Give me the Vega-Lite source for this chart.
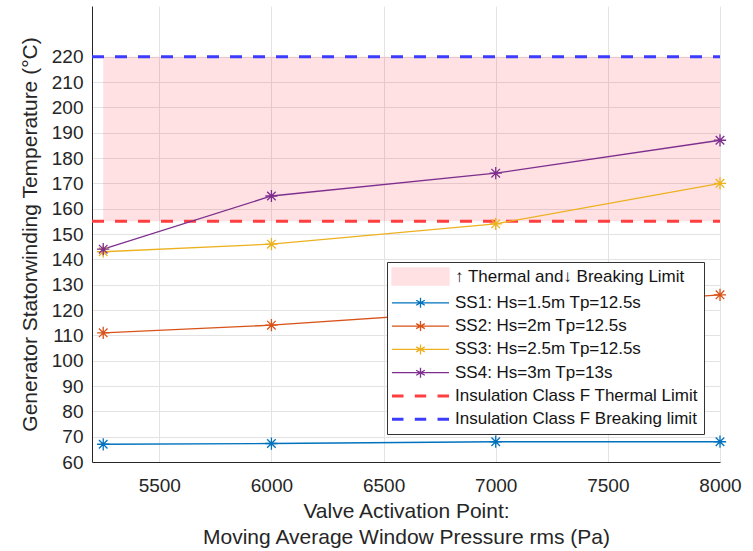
{
  "$schema": "https://vega.github.io/schema/vega-lite/v6.json",
  "width": 628,
  "height": 456,
  "autosize": {"type": "none"},
  "padding": {"left": 92, "top": 6, "right": 33, "bottom": 89},
  "background": "white",
  "config": {
    "view": {"stroke": null},
    "font": "Liberation Sans",
    "axis": {
      "labelFont": "Liberation Sans",
      "labelFontSize": 19,
      "labelColor": "#262626",
      "titleFont": "Liberation Sans",
      "titleFontSize": 21,
      "titleFontWeight": "normal",
      "titleColor": "#262626",
      "domainColor": "#262626",
      "domainWidth": 1,
      "gridColor": "#e3e3e3",
      "gridWidth": 1,
      "ticks": false,
      "labelOverlap": false,
      "labelFlush": false
    }
  },
  "datasets": {
    "ss": [
      {"x": 5250, "y": 67, "series": "SS1: Hs=1.5m Tp=12.5s"},
      {"x": 6000, "y": 67.3, "series": "SS1: Hs=1.5m Tp=12.5s"},
      {"x": 7000, "y": 68, "series": "SS1: Hs=1.5m Tp=12.5s"},
      {"x": 8000, "y": 68, "series": "SS1: Hs=1.5m Tp=12.5s"},
      {"x": 5250, "y": 111, "series": "SS2: Hs=2m Tp=12.5s"},
      {"x": 6000, "y": 114, "series": "SS2: Hs=2m Tp=12.5s"},
      {"x": 7000, "y": 120, "series": "SS2: Hs=2m Tp=12.5s"},
      {"x": 8000, "y": 126, "series": "SS2: Hs=2m Tp=12.5s"},
      {"x": 5250, "y": 143, "series": "SS3: Hs=2.5m Tp=12.5s"},
      {"x": 6000, "y": 146, "series": "SS3: Hs=2.5m Tp=12.5s"},
      {"x": 7000, "y": 154, "series": "SS3: Hs=2.5m Tp=12.5s"},
      {"x": 8000, "y": 170, "series": "SS3: Hs=2.5m Tp=12.5s"},
      {"x": 5250, "y": 144, "series": "SS4: Hs=3m Tp=13s"},
      {"x": 6000, "y": 165, "series": "SS4: Hs=3m Tp=13s"},
      {"x": 7000, "y": 174, "series": "SS4: Hs=3m Tp=13s"},
      {"x": 8000, "y": 187, "series": "SS4: Hs=3m Tp=13s"}
    ]
  },
  "encoding": {
    "x": {
      "field": "x", "type": "quantitative",
      "scale": {"domain": [5200, 8000], "nice": false, "zero": false},
      "axis": {
        "values": [5500, 6000, 6500, 7000, 7500, 8000],
        "format": "d",
        "labelPadding": 14,
        "title": ["Valve Activation Point:", "Moving Average Window Pressure rms (Pa)"],
        "titlePadding": 5,
        "titleLineHeight": 26
      }
    },
    "y": {
      "field": "y", "type": "quantitative",
      "scale": {"domain": [60, 240], "nice": false, "zero": false},
      "axis": {
        "values": [60, 70, 80, 90, 100, 110, 120, 130, 140, 150, 160, 170, 180, 190, 200, 210, 220],
        "format": "d",
        "labelPadding": 9,
        "title": "Generator Statorwinding Temperature (°C)",
        "titlePadding": 11
      }
    },
    "color": {
      "field": "series", "type": "nominal",
      "scale": {
        "domain": ["↑ Thermal and↓ Breaking Limit", "SS1: Hs=1.5m Tp=12.5s", "SS2: Hs=2m Tp=12.5s", "SS3: Hs=2.5m Tp=12.5s", "SS4: Hs=3m Tp=13s", "Insulation Class F Thermal Limit", "Insulation Class F Breaking limit"],
        "range": ["#FF182F", "#0072BD", "#D95319", "#EDB120", "#7E2F8E", "#FF3F3F", "#3C3CFF"]
      },
      "legend": {
        "title": null,
        "orient": "none",
        "legendX": 295,
        "legendY": 256,
        "symbolSize": 400,
        "symbolOffset": 19,
        "labelFont": "Liberation Sans",
        "labelFontSize": 17,
        "labelColor": "#141414",
        "labelLimit": 400,
        "labelOffset": 26,
        "rowPadding": 5.3,
        "padding": 6,
        "fillColor": "white",
        "strokeColor": "#333333",
        "encode": {
          "symbols": {
            "update": {
              "shape": {"signal": "datum.index == 0 ? 'M-2.85,-0.85H2.85V0.85H-2.85Z' : (datum.index >= 5 ? 'M-2.85,0H-1.7M-0.57,0H0.57M1.7,0H2.85' : 'M-2.85,0H2.85M0,-0.5V0.5M-0.43,-0.25L0.43,0.25M-0.43,0.25L0.43,-0.25')"},
              "opacity": {"signal": "datum.index == 0 ? 0.13 : 1"},
              "strokeWidth": {"signal": "datum.index >= 5 ? 3 : 1.3"}
            }
          }
        }
      }
    }
  },
  "layer": [
    {
      "data": {"values": [{"x": 5250, "x2": 8000, "y": 155, "y2": 220, "series": "↑ Thermal and↓ Breaking Limit"}]},
      "mark": {"type": "rect", "fillOpacity": 0.13},
      "encoding": {
        "x2": {"field": "x2"},
        "y2": {"field": "y2"}
      }
    },
    {
      "data": {"values": [
        {"x": 5200, "x2": 8000, "y": 155, "series": "Insulation Class F Thermal Limit"},
        {"x": 5200, "x2": 8000, "y": 220, "series": "Insulation Class F Breaking limit"}
      ]},
      "mark": {"type": "rule", "strokeDash": [12, 11], "strokeWidth": 3},
      "encoding": {
        "x2": {"field": "x2"}
      }
    },
    {
      "data": {"name": "ss"},
      "mark": {"type": "line", "strokeWidth": 1.3}
    },
    {
      "data": {"name": "ss"},
      "mark": {"type": "point", "filled": false, "opacity": 1, "size": 150, "strokeWidth": 1.3, "shape": "M0,-1V1M-1,0H1M-0.7,-0.7L0.7,0.7M-0.7,0.7L0.7,-0.7"}
    }
  ]
}
